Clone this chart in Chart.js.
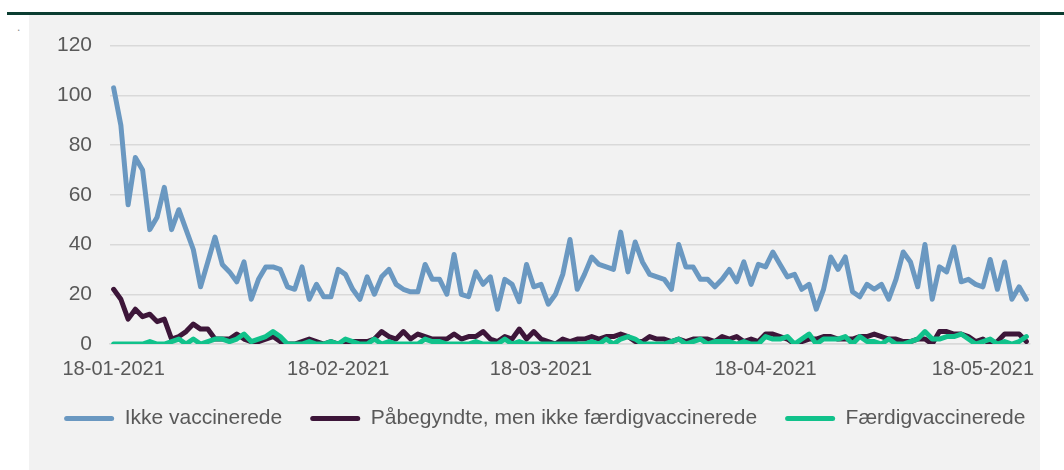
<!DOCTYPE html>
<html>
<head>
<meta charset="utf-8">
<script src="https://cdn.jsdelivr.net/npm/chart.js@4.4.1/dist/chart.umd.min.js"></script>
<style>
  body { margin: 0; background: #fff; width: 1064px; height: 470px; position: relative; overflow: hidden; font-family: 'Liberation Sans', Arial, sans-serif; }
  #topline { position: absolute; left: 7px; top: 12px; width: 1057px; height: 3px; background: #0b3d31; }
  #panel { position: absolute; left: 29px; top: 15px; width: 1011px; height: 455px; background: #f2f2f2; }
  #dot { position: absolute; left: 17px; top: 20px; font-size: 12px; color: #8c8c8c; }
  #myChart { position: absolute; left: 0; top: 15px; }
</style>
</head>
<body>
<div id="topline"></div>
<div id="dot">.</div>
<div id="panel"></div>
<canvas id="myChart" width="1064" height="455"></canvas>
<script>
// daglige tal 18-01-2021 .. 24-05-2021
const startDate = new Date(Date.UTC(2021, 0, 18));
const antalDage = 127;

const ikkeVaccinerede = [
  103, 88, 56, 75, 70, 46, 51, 63, 46, 54, 46, 38, 23, 33, 43, 32, 29, 25, 33, 18,
  26, 31, 31, 30, 23, 22, 31, 18, 24, 19, 19, 30, 28, 22, 18, 27, 20, 27, 30, 24,
  22, 21, 21, 32, 26, 26, 20, 36, 20, 19, 29, 24, 27, 14, 26, 24, 17, 32, 23, 24,
  16, 20, 28, 42, 22, 28, 35, 32, 31, 30, 45, 29, 41, 33, 28, 27, 26, 22, 40, 31,
  31, 26, 26, 23, 26, 30, 25, 33, 24, 32, 31, 37, 32, 27, 28, 22, 24, 14, 22, 35,
  30, 35, 21, 19, 24, 22, 24, 18, 26, 37, 33, 23, 40, 18, 31, 29, 39, 25, 26, 24,
  23, 34, 22, 33, 18, 23, 18
];
const paabegyndte = [
  22, 18, 10, 14, 11, 12, 9, 10, 2, 3, 5, 8, 6, 6, 2, 2, 2, 4, 2, 1,
  1, 2, 3, 1, 0, 0, 1, 2, 1, 0, 1, 0, 1, 1, 1, 1, 2, 5, 3, 2,
  5, 2, 4, 3, 2, 2, 2, 4, 2, 3, 3, 5, 2, 1, 3, 2, 6, 2, 5, 2,
  1, 0, 2, 1, 2, 2, 3, 2, 3, 3, 4, 3, 1, 1, 3, 2, 2, 1, 2, 1,
  2, 2, 2, 1, 3, 2, 3, 1, 2, 1, 4, 4, 3, 2, 0, 1, 2, 2, 3, 3,
  2, 2, 2, 3, 3, 4, 3, 2, 2, 1, 1, 2, 2, 0, 5, 5, 4, 4, 3, 1,
  2, 0, 1, 4, 4, 4, 1
];
const faerdigvaccinerede = [
  0, 0, 0, 0, 0, 1, 0, 0, 1, 2, 0, 2, 0, 1, 2, 2, 1, 2, 4, 1,
  2, 3, 5, 3, 0, 0, 0, 1, 0, 0, 1, 0, 2, 1, 0, 0, 2, 0, 1, 0,
  0, 0, 0, 2, 1, 1, 0, 0, 0, 0, 1, 0, 0, 0, 2, 0, 1, 0, 0, 0,
  0, 0, 0, 0, 0, 0, 1, 0, 2, 0, 2, 3, 2, 0, 0, 0, 0, 1, 2, 0,
  1, 2, 0, 1, 1, 1, 0, 1, 0, 0, 3, 2, 2, 3, 0, 2, 4, 0, 2, 2,
  2, 3, 0, 3, 1, 1, 0, 2, 0, 0, 1, 2, 5, 2, 2, 3, 3, 4, 2, 0,
  1, 2, 0, 1, 0, 1, 3
];
const tickLabels = ['18-01-2021', '18-02-2021', '18-03-2021', '18-04-2021', '18-05-2021'];
const yTicks = [0, 20, 40, 60, 80, 100, 120];

function fmt(d) {
  const dd = String(d.getUTCDate()).padStart(2, '0');
  const mm = String(d.getUTCMonth() + 1).padStart(2, '0');
  return dd + '-' + mm + '-' + d.getUTCFullYear();
}
const labels = [];
for (let i = 0; i < antalDage; i++) {
  labels.push(fmt(new Date(startDate.getTime() + i * 86400000)));
}

const tekst = '#595959';
const fam = "'Liberation Sans', Arial, sans-serif";

new Chart(document.getElementById('myChart'), {
  type: 'line',
  data: {
    labels: labels,
    datasets: [
      { label: 'Ikke vaccinerede', data: ikkeVaccinerede, borderColor: '#6a98c1', backgroundColor: '#6a98c1', order: 2 },
      { label: 'Påbegyndte, men ikke færdigvaccinerede', data: paabegyndte, borderColor: '#3d1639', backgroundColor: '#3d1639', order: 1 },
      { label: 'Færdigvaccinerede', data: faerdigvaccinerede, borderColor: '#11c28b', backgroundColor: '#11c28b', order: 0 }
    ]
  },
  options: {
    responsive: false,
    animation: false,
    elements: {
      line: { borderWidth: 5, tension: 0, borderJoinStyle: 'round', borderCapStyle: 'round' },
      point: { radius: 0 }
    },
    layout: { padding: { left: 30, right: 4.5, top: 28, bottom: 31 } },
    scales: {
      x: {
        offset: true,
        afterFit: axis => { axis.height = 36; },
        grid: {
          offset: true,
          drawOnChartArea: false,
          drawTicks: true,
          tickLength: 5,
          lineWidth: 1.5,
          color: ctx => (ctx.tick && tickLabels.includes(labels[ctx.index])) ? '#d0d0d0' : 'rgba(0,0,0,0)'
        },
        border: { color: '#d9d9d9', width: 1.5 },
        ticks: {
          autoSkip: false,
          maxRotation: 0,
          minRotation: 0,
          padding: 8,
          color: tekst,
          font: { family: fam, size: 20 },
          callback: function (v, i) {
            const l = labels[i];
            return tickLabels.includes(l) ? l : null;
          }
        }
      },
      y: {
        min: 0,
        max: 120,
        afterBuildTicks: axis => { axis.ticks = yTicks.map(v => ({ value: v })); },
        afterFit: axis => { axis.width = 80; },
        grid: { color: '#d9d9d9', lineWidth: 1.5, drawTicks: false },
        border: { display: false },
        ticks: { padding: 18, color: tekst, font: { family: fam, size: 21 } }
      },
      // tom højre akse, holder plotområdet væk fra kanten
      hoejre: {
        type: 'linear',
        position: 'right',
        afterFit: axis => { axis.width = 29.5; },
        grid: { drawOnChartArea: false, drawTicks: false },
        border: { display: false },
        ticks: { display: false }
      }
    },
    plugins: {
      tooltip: { enabled: false },
      legend: {
        position: 'bottom',
        labels: {
          color: tekst,
          font: { family: fam, size: 21 },
          boxWidth: 50,
          boxHeight: 5,
          useBorderRadius: true,
          borderRadius: 2.5,
          padding: 28,
          sort: (a, b) => a.datasetIndex - b.datasetIndex,
          generateLabels: chart => Chart.defaults.plugins.legend.labels.generateLabels(chart).map(l => {
            l.fillStyle = l.strokeStyle;
            l.lineWidth = 0;
            return l;
          })
        }
      }
    }
  }
});
</script>
</body>
</html>
